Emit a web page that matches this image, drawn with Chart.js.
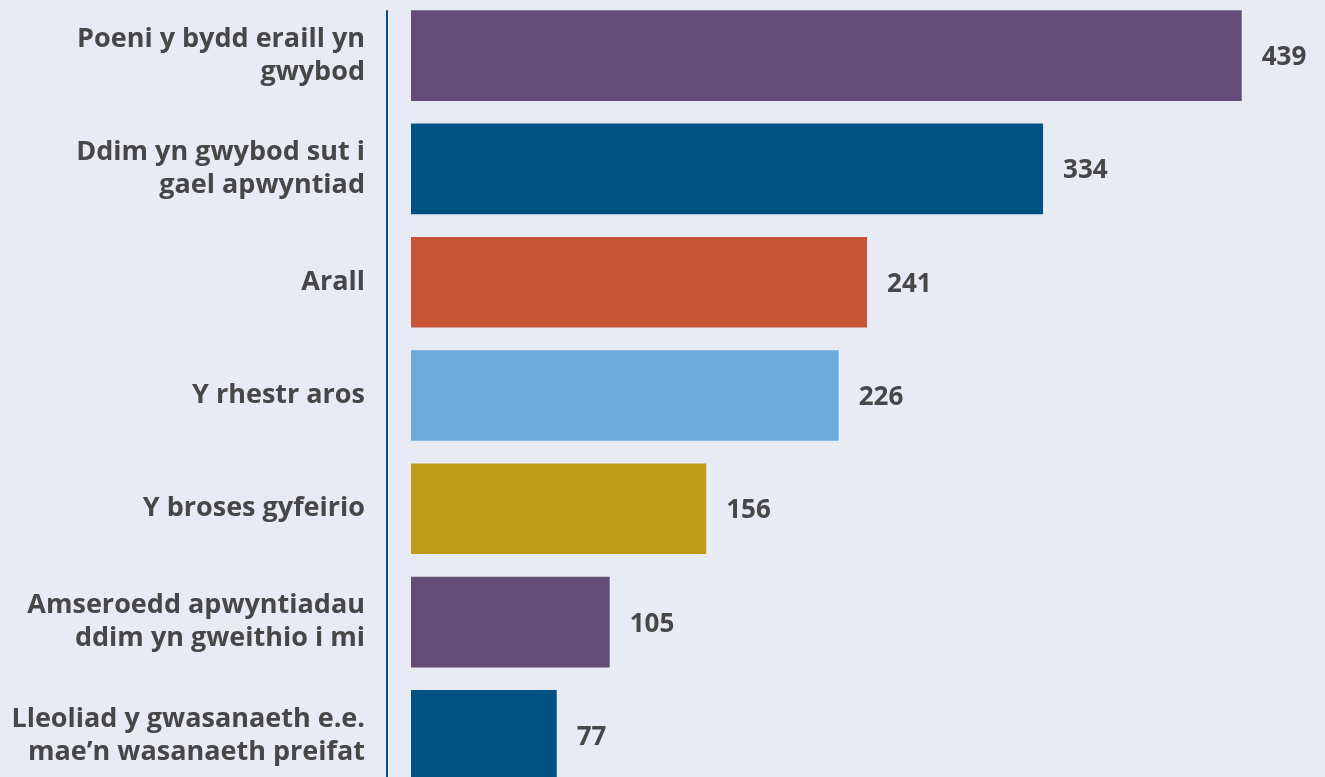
<!DOCTYPE html>
<html>
<head>
<meta charset="utf-8">
<script src="https://cdn.jsdelivr.net/npm/chart.js@4"></script>
<style>
  html, body { margin: 0; padding: 0; background: #e8eaf4; overflow: hidden; }
  /* canvas is taller than the window: the y axis adds label padding above and below the plot */
  .chart-container { position: absolute; left: 0; top: -80px; width: 1325px; height: 951px; }
</style>
</head>
<body>
<div class="chart-container"><canvas id="reasonsChart"></canvas></div>
<script>
const categories = [
    ['Poeni y bydd eraill yn', 'gwybod'],
    ['Ddim yn gwybod sut i', 'gael apwyntiad'],
    'Arall',
    'Y rhestr aros',
    'Y broses gyfeirio',
    ['Amseroedd apwyntiadau', 'ddim yn gweithio i mi'],
    ['Lleoliad y gwasanaeth e.e.', 'mae\u2019n wasanaeth preifat']
];
const counts = [439, 334, 241, 226, 156, 105, 77];
const barColours = ['#634c78', '#005282', '#c65437', '#6daadd', '#bd9a18', '#634c78', '#005282'];

const textColour = '#474747';
const fontFamily = '"Open Sans", sans-serif';

// value labels to the right of each bar
const valueLabels = {
    id: 'valueLabels',
    afterDatasetsDraw(chart) {
        const ctx = chart.ctx;
        const meta = chart.getDatasetMeta(0);
        ctx.save();
        ctx.fillStyle = textColour;
        ctx.font = 'bold 26px ' + fontFamily;
        ctx.textAlign = 'left';
        ctx.textBaseline = 'middle';
        meta.data.forEach((bar, i) => {
            ctx.fillText(counts[i], bar.x + 20, bar.y + 2);
        });
        ctx.restore();
    }
};

// vertical axis line sitting a little left of the bars
const axisLine = {
    id: 'axisLine',
    afterDraw(chart) {
        const ctx = chart.ctx;
        const first = chart.getDatasetMeta(0).data[0];
        const x = chart.chartArea.left - 24;
        ctx.save();
        ctx.strokeStyle = '#005282';
        ctx.lineWidth = 2;
        ctx.beginPath();
        ctx.moveTo(x, first.y - first.height / 2);
        ctx.lineTo(x, chart.height);
        ctx.stroke();
        ctx.restore();
    }
};

const ctx = document.getElementById('reasonsChart').getContext('2d');
const reasonsChart = new Chart(ctx, {
    type: 'bar',
    data: {
        labels: categories,
        datasets: [{
            data: counts,
            backgroundColor: barColours,
            borderWidth: 0,
            barPercentage: 0.8,
            categoryPercentage: 1
        }]
    },
    options: {
        indexAxis: 'y',
        responsive: true,
        maintainAspectRatio: false,
        animation: false,
        layout: { padding: 0 },
        scales: {
            x: {
                display: false,
                min: 0,
                max: 483
            },
            y: {
                afterFit: (scale) => { scale.width = 411; },
                border: { display: false },
                grid: { display: false, drawTicks: false },
                ticks: {
                    color: textColour,
                    padding: 46,
                    font: { family: fontFamily, weight: 'bold', size: 27, lineHeight: 1.22 }
                }
            }
        },
        plugins: {
            legend: { display: false },
            tooltip: { enabled: false }
        }
    },
    plugins: [valueLabels, axisLine]
});
</script>
</body>
</html>
